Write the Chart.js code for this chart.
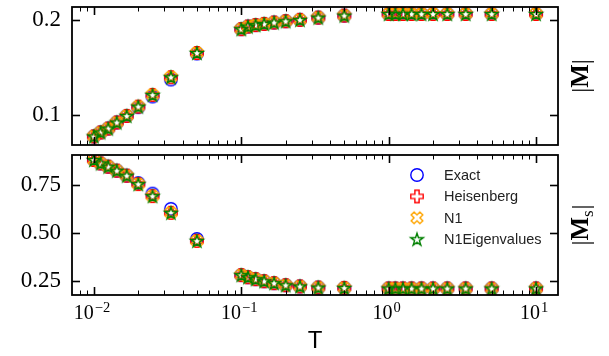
<!DOCTYPE html>
<html>
<head>
<meta charset="utf-8">
<script src="https://cdn.jsdelivr.net/npm/chart.js@4"></script>
<style>
  body { margin: 0; background: #fff; }
  #wrap { position: relative; width: 609px; height: 356px; }
  canvas { position: absolute; left: 0; }
  #magChart { top: 0; }
  #stagChart { top: 150px; }
</style>
</head>
<body>
<div id="wrap">
  <canvas id="magChart" width="609" height="150"></canvas>
  <canvas id="stagChart" width="609" height="206"></canvas>
</div>
<script>
// temperatures (shared x axis)
const temps = [0.01, 0.0111, 0.0125, 0.0143, 0.0167, 0.02, 0.025, 0.0333, 0.05,
               0.1, 0.111, 0.125, 0.143, 0.167, 0.2, 0.25, 0.333, 0.5,
               1, 1.11, 1.25, 1.43, 1.67, 2, 2.5, 3.33, 5, 10];

// |M|
const magExact      = [0.0778, 0.0820, 0.0861, 0.0924, 0.0993, 0.1085, 0.1197, 0.1375, 0.1648,
                       0.1903, 0.1930, 0.1945, 0.1958, 0.1972, 0.1986, 0.2000, 0.2024, 0.2045,
                       0.2062, 0.2062, 0.2062, 0.2062, 0.2062, 0.2062, 0.2062, 0.2062, 0.2062, 0.2062];
const magHeisenberg = [0.0778, 0.0820, 0.0861, 0.0924, 0.0993, 0.1091, 0.1213, 0.1399, 0.1653,
                       0.1903, 0.1930, 0.1945, 0.1958, 0.1972, 0.1986, 0.2000, 0.2024, 0.2045,
                       0.2062, 0.2062, 0.2062, 0.2062, 0.2062, 0.2062, 0.2062, 0.2062, 0.2062, 0.2062];
const magN1    = magHeisenberg;
const magN1Eig = magHeisenberg;

// |M_s|
const stagExact      = [0.881, 0.863, 0.846, 0.825, 0.799, 0.760, 0.705, 0.625, 0.468,
                        0.279, 0.268, 0.258, 0.247, 0.237, 0.226, 0.220, 0.214, 0.212,
                        0.209, 0.209, 0.209, 0.209, 0.209, 0.209, 0.209, 0.209, 0.209, 0.209];
const stagHeisenberg = [0.881, 0.863, 0.846, 0.825, 0.799, 0.755, 0.692, 0.605, 0.458,
                        0.279, 0.268, 0.258, 0.247, 0.237, 0.226, 0.220, 0.214, 0.212,
                        0.209, 0.209, 0.209, 0.209, 0.209, 0.209, 0.209, 0.209, 0.209, 0.209];
const stagN1    = stagHeisenberg;
const stagN1Eig = stagHeisenberg;

const seriesNames = ['Exact', 'Heisenberg', 'N1', 'N1Eigenvalues'];

const xTicks = [0.01, 0.1, 1, 10];
const xTickExponents = ['−2', '−1', '0', '1'];
const magTicks = [0.1, 0.2];
const magTickLabels = ['0.1', '0.2'];
const stagTicks = [0.25, 0.5, 0.75];
const stagTickLabels = ['0.25', '0.50', '0.75'];

// hollow marker sprites
function marker(kind, color) {
  const c = document.createElement('canvas');
  c.width = 18; c.height = 18;
  const g = c.getContext('2d');
  g.translate(9, 9);
  g.strokeStyle = color;
  g.lineWidth = 1.4;
  g.lineJoin = 'miter';
  g.beginPath();
  if (kind === 'circle') {
    g.arc(0, 0, 6.2, 0, Math.PI * 2);
  } else if (kind === 'plus' || kind === 'x') {
    if (kind === 'x') g.rotate(Math.PI / 4);
    const a = 6.2, b = 2.1;
    const pts = [[-b,-a],[b,-a],[b,-b],[a,-b],[a,b],[b,b],[b,a],[-b,a],[-b,b],[-a,b],[-a,-b],[-b,-b]];
    pts.forEach((p, i) => i ? g.lineTo(p[0], p[1]) : g.moveTo(p[0], p[1]));
    g.closePath();
  } else {
    const ro = 6.6, ri = ro * 0.382;
    for (let i = 0; i < 10; i++) {
      const r = i % 2 ? ri : ro;
      const ang = -Math.PI / 2 + i * Math.PI / 5;
      const px = r * Math.cos(ang), py = r * Math.sin(ang) + 0.6;
      i ? g.lineTo(px, py) : g.moveTo(px, py);
    }
    g.closePath();
  }
  g.stroke();
  return c;
}

const markers = [
  marker('circle', '#0000ff'),
  marker('plus', '#ff0000'),
  marker('x', '#ffa500'),
  marker('star', '#008000')
];

function makeDatasets(series) {
  return series.map((vals, i) => ({
    label: seriesNames[i],
    data: temps.map((t, k) => ({ x: t, y: vals[k] })),
    pointStyle: markers[i],
    showLine: false,
    order: series.length - 1 - i
  }));
}

// frame, inward ticks, power-of-ten labels, right-hand label, optional legend
const panelFrame = {
  id: 'panelFrame',
  afterDatasetsDraw(chart, args, opts) {
    const { ctx, chartArea: a, scales } = chart;
    const seg = (x1, y1, x2, y2) => { ctx.beginPath(); ctx.moveTo(x1, y1); ctx.lineTo(x2, y2); ctx.stroke(); };
    ctx.save();
    ctx.strokeStyle = '#000';

    const xs = scales.x;
    for (let e = -3; e <= 1; e++) {
      for (let m = 1; m <= 9; m++) {
        const v = m * Math.pow(10, e);
        if (v < xs.min || v > xs.max) continue;
        const px = Math.round(xs.getPixelForValue(v)) + 0.5;
        const len = m === 1 ? 8 : 4.5;
        ctx.lineWidth = m === 1 ? 1.6 : 1;
        seg(px, a.top, px, a.top + len);
        seg(px, a.bottom, px, a.bottom - len);
      }
    }
    const ys = scales.y;
    ctx.lineWidth = 1.6;
    ys.ticks.forEach(t => {
      const py = Math.round(ys.getPixelForValue(t.value)) + 0.5;
      seg(a.left, py, a.left + 8, py);
      seg(a.right, py, a.right - 8, py);
    });

    ctx.lineWidth = 1.8;
    ctx.strokeRect(a.left, a.top, a.right - a.left, a.bottom - a.top);

    ctx.fillStyle = '#000';
    if (opts.xLabels) {
      ctx.textBaseline = 'alphabetic';
      ctx.textAlign = 'left';
      xTicks.forEach((v, i) => {
        const px = xs.getPixelForValue(v);
        ctx.font = '20px "Liberation Serif"';
        const wb = ctx.measureText('10').width;
        ctx.font = '14.5px "Liberation Serif"';
        const we = ctx.measureText(xTickExponents[i]).width;
        const x0 = px - (wb + we + 1) / 2 - 2;
        ctx.font = '20px "Liberation Serif"';
        ctx.fillText('10', x0, a.bottom + 23.5);
        ctx.font = '14.5px "Liberation Serif"';
        ctx.fillText(xTickExponents[i], x0 + wb + 1, a.bottom + 16.5);
      });
    }

    // axis label on the right, reading bottom to top
    ctx.translate(a.right + 24, (a.top + a.bottom) / 2);
    ctx.rotate(-Math.PI / 2);
    ctx.textBaseline = 'middle';
    const big = 'bold 25px "Liberation Serif"';
    const bar = '25px "Liberation Serif"';
    const sub = '17px "Liberation Serif"';
    ctx.font = bar; const wb = ctx.measureText('|').width;
    ctx.font = big; const wm = ctx.measureText('M').width;
    ctx.font = sub; const ws = opts.sub ? ctx.measureText(opts.sub).width + 1 : 0;
    let x = -(wb * 2 + wm + ws) / 2;
    ctx.textAlign = 'left';
    ctx.font = bar; ctx.fillText('|', x, 0); x += wb;
    ctx.font = big; ctx.fillText('M', x, 0); x += wm;
    if (opts.sub) { ctx.font = sub; ctx.fillText(opts.sub, x, 7); x += ws; }
    ctx.font = bar; ctx.fillText('|', x, 0);
    ctx.restore();

    if (opts.legend) {
      ctx.save();
      ctx.font = '14.5px "Liberation Sans"';
      ctx.fillStyle = '#222';
      ctx.textBaseline = 'middle';
      const lx = a.right - 141, ly = a.top + 20, row = 21.4;
      seriesNames.forEach((name, i) => {
        const m = markers[i];
        ctx.drawImage(m, lx - m.width / 2, ly + i * row - m.height / 2);
        ctx.fillText(name, lx + 27, ly + i * row + 1);
      });
      ctx.restore();
    }
  }
};

function noPad(s) {
  s.paddingTop = 0; s.paddingBottom = 0; s.paddingLeft = 0; s.paddingRight = 0;
}

function xScale(showTitle) {
  return {
    type: 'logarithmic',
    min: 0.0071,
    max: 14.1,
    display: showTitle,
    grid: { display: false, drawTicks: false },
    border: { display: false },
    afterBuildTicks: s => { s.ticks = xTicks.map(v => ({ value: v })); },
    afterFit: s => { noPad(s); if (showTitle) s.height = 61; },
    ticks: { display: false },
    title: {
      display: showTitle, text: 'T', color: '#000',
      font: { family: '"Liberation Sans"', size: 24 },
      padding: { top: 0, bottom: 0 }
    }
  };
}

function yScale(min, max, tickVals, tickLabels) {
  return {
    type: 'linear',
    min: min,
    max: max,
    grid: { display: false, drawTicks: false },
    border: { display: false },
    afterBuildTicks: s => { s.ticks = tickVals.map(v => ({ value: v })); },
    afterFit: s => { noPad(s); s.width = 72; },
    ticks: {
      padding: 11, color: '#000',
      font: { family: '"Liberation Serif"', size: 23 },
      callback: (v, i) => tickLabels[i]
    }
  };
}

function baseOptions(padTop, padBottom) {
  return {
    responsive: false,
    animation: false,
    events: [],
    layout: { padding: { left: 0, right: 51, top: padTop, bottom: padBottom } },
    plugins: { legend: { display: false }, tooltip: { enabled: false } }
  };
}

const magOpts = baseOptions(7, 4);
magOpts.scales = { x: xScale(false), y: yScale(0.0688, 0.2135, magTicks, magTickLabels) };
magOpts.plugins.panelFrame = { sub: '', legend: false, xLabels: false };

new Chart(document.getElementById('magChart').getContext('2d'), {
  type: 'scatter',
  data: { datasets: makeDatasets([magExact, magHeisenberg, magN1, magN1Eig]) },
  options: magOpts,
  plugins: [panelFrame]
});

const stagOpts = baseOptions(5, 0);
stagOpts.scales = { x: xScale(true), y: yScale(0.175, 0.907, stagTicks, stagTickLabels) };
stagOpts.plugins.panelFrame = { sub: 's', legend: true, xLabels: true };

new Chart(document.getElementById('stagChart').getContext('2d'), {
  type: 'scatter',
  data: { datasets: makeDatasets([stagExact, stagHeisenberg, stagN1, stagN1Eig]) },
  options: stagOpts,
  plugins: [panelFrame]
});
</script>
</body>
</html>
